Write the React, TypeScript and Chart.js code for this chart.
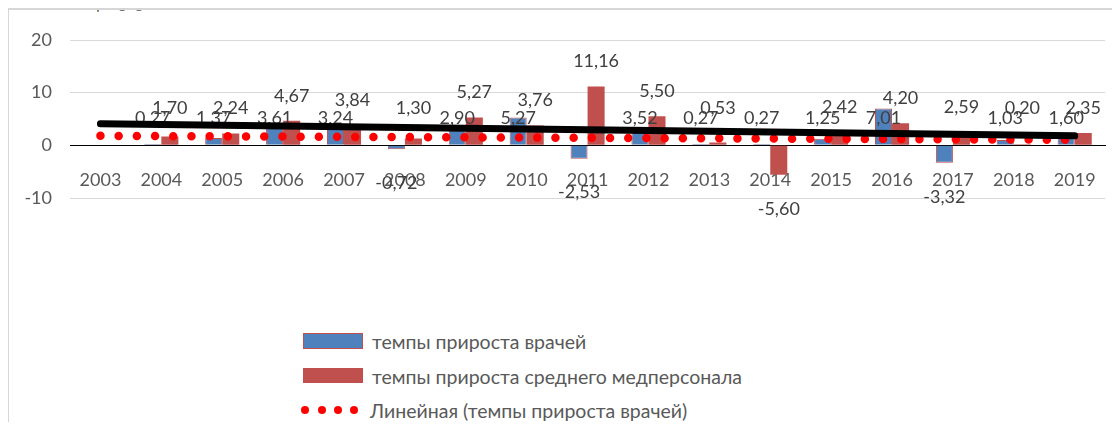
import React, { useEffect, useRef } from "react";
import { Chart, registerables } from "chart.js";

Chart.register(...registerables);

// ---- data ----
const years = ["2003", "2004", "2005", "2006", "2007", "2008", "2009", "2010", "2011", "2012", "2013", "2014", "2015", "2016", "2017", "2018", "2019"];
const doctorsGrowth: (number | null)[] = [null, 0.27, 1.37, 3.61, 3.24, -0.72, 2.9, 5.27, -2.53, 3.52, 0.27, 0.27, 1.25, 7.01, -3.32, 1.03, 1.6];
const nursesGrowth: (number | null)[] = [null, 1.7, 2.24, 4.67, 3.84, 1.3, 5.27, 3.76, 11.16, 5.5, 0.53, -5.6, 2.42, 4.2, 2.59, 0.2, 2.35];
const doctorsTrend = [
  { x: "2003", y: 1.8 },
  { x: "2019", y: 1.05 },
];
const nursesTrend = [
  { x: "2003", y: 4.1 },
  { x: "2019", y: 1.8 },
];
const seriesNames = [
  "темпы прироста врачей",
  "темпы прироста среднего медперсонала",
  "Линейная (темпы прироста врачей)",
];
const yMin = -10;
const yMax = 20;
const yStep = 10;
const headerText = "по данным таблицы [5].";

const FONT = 'Lato, "Open Sans", sans-serif';
const BLUE = "#4F81BD";
const RED = "#C0504D";

const fmt = (v: number) => v.toFixed(2).replace(".", ",");

const barLabels = {
  id: "barLabels",
  afterDatasetDraw(chart: any, args: any) {
    if (args.index !== 0) return;
    const ctx = chart.ctx;
    const ys = chart.scales.y;
    ctx.save();
    ctx.font = `18px ${FONT}`;
    ctx.fillStyle = "#404040";
    ctx.textAlign = "center";
    ctx.textBaseline = "middle";
    [0, 1].forEach((di) => {
      const meta = chart.getDatasetMeta(di);
      const vals = chart.data.datasets[di].data as (number | null)[];
      meta.data.forEach((el: any, i: number) => {
        const v = vals[i];
        if (v == null) return;
        let ty: number;
        if (v < 0) ty = el.y + 34;
        else if (di === 0) ty = ys.getPixelForValue(5.1);
        else ty = ys.getPixelForValue(Math.max(v, 2.3)) - 25;
        ctx.fillText(fmt(v), el.x, ty);
      });
    });
    ctx.restore();
  },
};

export default function App() {
  const ref = useRef<HTMLCanvasElement>(null);

  useEffect(() => {
    document.body.style.overflow = "hidden";
    const chart = new Chart(ref.current!, {
      type: "bar",
      data: {
        labels: years,
        datasets: [
          {
            type: "bar",
            label: seriesNames[0],
            data: doctorsGrowth,
            backgroundColor: BLUE,
            borderColor: RED,
            borderWidth: 1,
            categoryPercentage: 0.56,
            barPercentage: 1,
            order: 2,
          },
          {
            type: "bar",
            label: seriesNames[1],
            data: nursesGrowth,
            backgroundColor: RED,
            borderColor: RED,
            borderWidth: 0,
            categoryPercentage: 0.56,
            barPercentage: 1,
            order: 3,
          },
          {
            type: "line",
            label: seriesNames[2],
            data: doctorsTrend as any,
            borderColor: "#FF0000",
            borderWidth: 8.5,
            borderDash: [0, 18.2],
            borderCapStyle: "round",
            pointRadius: 0,
            fill: false,
            order: 1,
          },
          {
            type: "line",
            label: "trend2",
            data: nursesTrend as any,
            borderColor: "#000000",
            borderWidth: 7,
            borderCapStyle: "round",
            pointRadius: 0,
            fill: false,
            order: 0,
          },
        ],
      },
      options: {
        responsive: false,
        animation: false,
        layout: { padding: { top: 32, right: 14, bottom: 50, left: 0 } },
        plugins: { legend: { display: false }, tooltip: { enabled: false } },
        scales: {
          x: {
            position: { y: 0 } as any,
            grid: { display: false, drawTicks: false },
            border: { display: true, color: "#000000", width: 1 },
            ticks: {
              color: "#595959",
              font: { family: FONT, size: 18 },
              padding: 24,
              maxRotation: 0,
              autoSkip: false,
            },
            afterFit: (s: any) => {
              s.height = 0;
            },
          },
          y: {
            min: yMin,
            max: yMax,
            ticks: {
              stepSize: yStep,
              color: "#595959",
              font: { family: FONT, size: 18 },
              padding: 18,
            },
            grid: { color: "#D9D9D9", drawTicks: false },
            border: { display: false },
            afterFit: (s: any) => {
              s.width = 62;
            },
          },
        },
      },
      plugins: [barLabels],
    });
    return () => chart.destroy();
  }, []);

  const textStyle: React.CSSProperties = {
    position: "absolute",
    left: 372,
    fontFamily: FONT,
    fontSize: 19.5,
    lineHeight: "24px",
    color: "#595959",
    whiteSpace: "nowrap",
  };

  return (
    <div style={{ position: "relative", width: 1120, height: 430, margin: -8, overflow: "hidden", background: "#fff" }}>
      <div
        style={{
          position: "absolute",
          right: 1120 - 148,
          top: -12,
          fontFamily: '"Liberation Serif", serif',
          fontSize: 21,
          lineHeight: "24px",
          whiteSpace: "nowrap",
          color: "#000",
        }}
      >
        {headerText}
      </div>
      <div
        style={{
          position: "absolute",
          left: 7,
          top: 8,
          width: 1200,
          height: 500,
          borderTop: "2px solid #D6D6D6",
          borderLeft: "2px solid #D6D6D6",
        }}
      />
      <canvas ref={ref} width={1112} height={240} style={{ position: "absolute", left: 8, top: 8 }} />
      <div style={{ position: "absolute", left: 303, top: 333, width: 60, height: 16, background: BLUE, border: `1px solid ${RED}`, boxSizing: "border-box" }} />
      <div style={{ ...textStyle, top: 342 - 12 }}>{seriesNames[0]}</div>
      <div style={{ position: "absolute", left: 303, top: 368, width: 60, height: 15, background: RED }} />
      <div style={{ ...textStyle, top: 377 - 12 }}>{seriesNames[1]}</div>
      {[305, 322, 338, 354].map((cx) => (
        <div
          key={cx}
          style={{ position: "absolute", left: cx - 4, top: 410 - 4, width: 8, height: 8, borderRadius: "50%", background: "#FF0000" }}
        />
      ))}
      <div style={{ ...textStyle, left: 370, top: 411 - 12 }}>{seriesNames[2]}</div>
    </div>
  );
}
